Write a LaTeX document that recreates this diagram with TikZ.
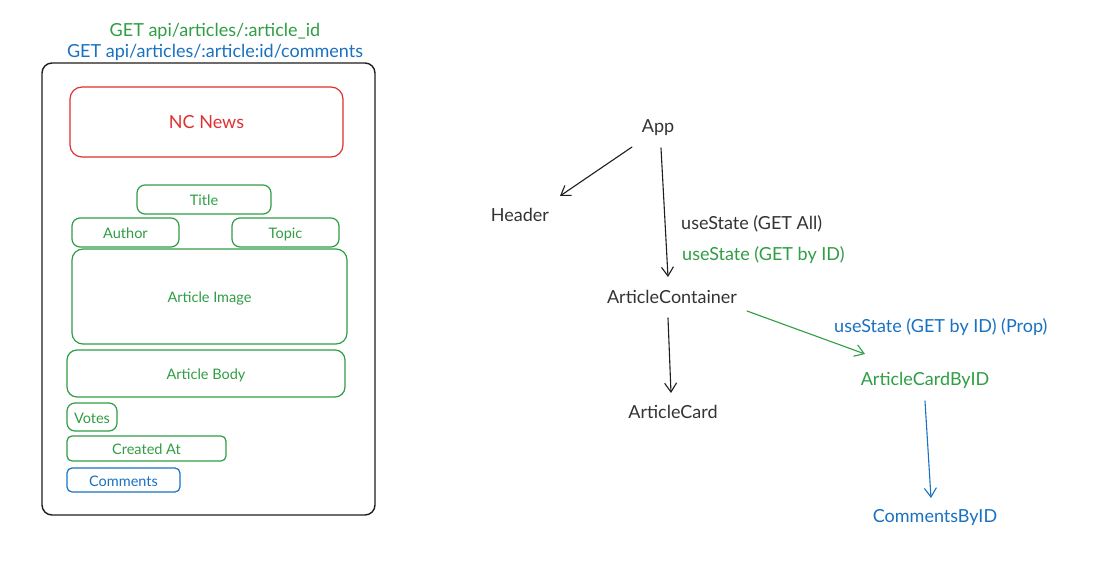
\documentclass[tikz,border=0pt]{standalone}
\usepackage{fontspec}
\setmainfont{Lato}
\usetikzlibrary{arrows.meta,calc}
\definecolor{exgreen}{HTML}{2F9E44}
\definecolor{exred}{HTML}{E03131}
\definecolor{exblue}{HTML}{1971C2}
\definecolor{exblack}{HTML}{1E1E1E}
\definecolor{extext}{HTML}{333333}
\begin{document}
\begin{tikzpicture}[x=1pt,y=-1pt,
  big/.style={font=\fontsize{18}{21}\selectfont, inner sep=1pt, text height=15pt, text depth=1.5pt},
  small/.style={font=\fontsize{14.5}{17}\selectfont, text height=12.5pt, text depth=0.5pt},
  wbox/.style={draw, rounded corners=8pt, line width=1.2pt, inner sep=0pt},
  arr/.style={-{Straight Barb[length=9pt,width=12pt]}, line width=1.1pt, line cap=round},
]
\useasboundingbox[fill=white] (0,0) rectangle (1098,568);

% left panel
\node[big, text=exgreen] (get1) at (215,30) {GET api/articles/:article\_id};
\node[big, text=exblue] (get2) at (215,51) {GET api/articles/:article:id/comments};
\node[wbox, draw=exblack, line width=1.4pt, rounded corners=10pt, minimum width=333pt, minimum height=452pt] (frame) at (208.5,289) {};
\node[wbox, draw=exred, rounded corners=12pt, minimum width=273pt, minimum height=70pt, big, text=exred] (nc) at (206.5,122) {NC News};
\node[wbox, draw=exgreen, text=exgreen, small, minimum width=134pt, minimum height=29pt] (title) at (204,199.5) {Title};
\node[wbox, draw=exgreen, text=exgreen, small, minimum width=107pt, minimum height=29pt] (author) at (125.5,232.5) {Author};
\node[wbox, draw=exgreen, text=exgreen, small, minimum width=107pt, minimum height=29pt] (topic) at (285.5,232.5) {Topic};
\node[wbox, draw=exgreen, text=exgreen, small, rounded corners=11pt, minimum width=275pt, minimum height=95pt] (img) at (209.5,296.5) {Article Image};
\node[wbox, draw=exgreen, text=exgreen, small, rounded corners=10pt, minimum width=278pt, minimum height=47pt] (body) at (206,373.5) {Article Body};
\node[wbox, draw=exgreen, text=exgreen, small, minimum width=50pt, minimum height=28pt] (votes) at (92,417) {Votes};
\node[wbox, draw=exgreen, text=exgreen, small, rounded corners=5pt, minimum width=159pt, minimum height=25pt] (created) at (146.5,448.5) {Created At};
\node[wbox, draw=exblue, text=exblue, small, rounded corners=5pt, minimum width=113pt, minimum height=24pt] (comm) at (123.5,480) {Comments};

% right graph
\node[big, text=extext] (app) at (658,126) {App};
\node[big, text=extext] (hdr) at (520,215) {Header};
\node[big, text=extext] (ac) at (672,297) {ArticleContainer};
\node[big, text=extext] (card) at (673,412) {ArticleCard};
\node[big, text=exgreen] (acb) at (925,379) {ArticleCardByID};
\node[big, text=exblue] (cbi) at (935,516) {CommentsByID};
\node[big, text=extext, anchor=west] (lab1) at (680,223) {useState (GET All)};
\node[big, text=exgreen, anchor=west] (lab2) at (681,254) {useState (GET by ID)};
\node[big, text=exblue, anchor=west] (lab3) at (833,326) {useState (GET by ID) (Prop)};

\draw[arr, exblack] ($(app)+(-26,21)$) -- ($(hdr)+(40,-19)$);
\draw[arr, exblack] ($(app)+(3,22)$) -- ($(ac)+(-4,-20)$);
\draw[arr, exblack] ($(ac)+(-4,21)$) -- ($(card)+(-2,-19)$);
\draw[arr, exgreen] ($(ac)+(75,14)$) -- ($(acb)+(-60,-25)$);
\draw[arr, exblue] ($(acb)+(0,22)$) -- ($(cbi)+(-4,-18)$);
\end{tikzpicture}
\end{document}
